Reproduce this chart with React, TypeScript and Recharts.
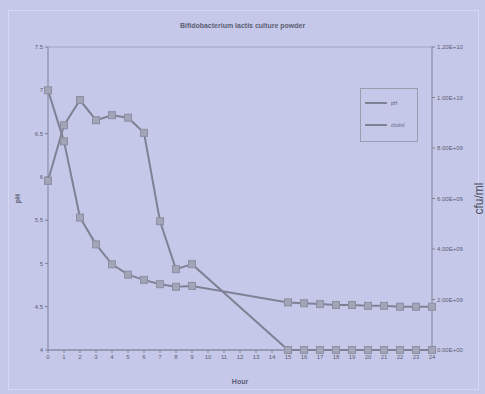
import React from 'react';
import { ComposedChart, Line, XAxis, YAxis, CartesianGrid, Label } from 'recharts';

const hours = [0, 1, 2, 3, 4, 5, 6, 7, 8, 9, 10, 11, 12, 13, 14, 15, 16, 17, 18, 19, 20, 21, 22, 23, 24];
const phValues: (number | null)[] = [7.0, 6.41, 5.53, 5.22, 4.99, 4.87, 4.81, 4.76, 4.73, 4.74, null, null, null, null, null, 4.55, 4.54, 4.53, 4.52, 4.52, 4.51, 4.51, 4.5, 4.5, 4.5];
const cfuValues: (number | null)[] = [6.7e9, 8.9e9, 9.9e9, 9.1e9, 9.3e9, 9.2e9, 8.6e9, 5.1e9, 3.2e9, 3.4e9, null, null, null, null, null, 0, 0, 0, 0, 0, 0, 0, 0, 0, 0];
const phTicks = [4, 4.5, 5, 5.5, 6, 6.5, 7, 7.5];
const cfuTicks = [0, 2e9, 4e9, 6e9, 8e9, 1e10, 1.2e10];

const BG = '#c6c8ea';
const LINE = '#7e8294';
const TXT = '#5c5e72';

const data = hours.map((h, i) => ({ hour: h, pH: phValues[i], cfu: cfuValues[i] }));

const fmtExp = (v: number) => {
  const [m, e] = v.toExponential(2).split('e');
  const n = parseInt(e, 10);
  return `${m}E${n < 0 ? '-' : '+'}${String(Math.abs(n)).padStart(2, '0')}`;
};

const SquareDot = (props: any) => {
  const { cx, cy, value } = props;
  if (cx == null || cy == null || value == null) return null;
  return <rect x={cx - 3.5} y={cy - 3.5} width={7} height={7} fill="#a2a4b8" stroke="#8c8fa2" strokeWidth={1} />;
};

const tick = { fontSize: 6, fill: TXT, fontFamily: 'Liberation Sans, Arial, sans-serif' };

export default function App() {
  return (
    <div style={{ position: 'fixed', left: 0, top: 0, width: 485, height: 394, background: BG, overflow: 'hidden', fontFamily: 'Liberation Sans, Arial, sans-serif' }}>
      <div style={{ position: 'absolute', left: 8, top: 10, right: 6, bottom: 4, border: '1px solid #d6d8f2' }} />
      <div style={{ position: 'absolute', left: 0, width: 485, top: 22, textAlign: 'center', fontSize: 7, fontWeight: 'bold', color: TXT }}>
        Bifidobacterium lactis culture powder
      </div>
      <ComposedChart width={485} height={394} data={data} margin={{ top: 47, right: 8, bottom: 24, left: 10 }}>
        <CartesianGrid vertical={false} stroke="#9fa2c4" strokeWidth={1} />
        <XAxis dataKey="hour" type="number" domain={[0, 24]} ticks={hours} interval={0} tick={tick} tickSize={3} stroke={LINE} height={20}>
          <Label value="Hour" position="insideBottom" offset={-14} style={{ fontSize: 7, fontWeight: 'bold', fill: TXT }} />
        </XAxis>
        <YAxis yAxisId="ph" domain={[4, 7.5]} ticks={phTicks} tick={tick} tickSize={3} stroke={LINE} width={38}>
          <Label value="pH" angle={-90} position="insideLeft" offset={8} style={{ fontSize: 7, fontWeight: 'bold', fill: TXT, textAnchor: 'middle' }} />
        </YAxis>
        <YAxis yAxisId="cfu" orientation="right" domain={[0, 1.2e10]} ticks={cfuTicks} tickFormatter={fmtExp} tick={tick} tickSize={3} stroke={LINE} width={45}>
          <Label value="cfu/ml" angle={-90} position="insideRight" offset={-2} style={{ fontSize: 12, fill: '#4a4c5c', textAnchor: 'middle' }} />
        </YAxis>
        <Line yAxisId="ph" dataKey="pH" stroke={LINE} strokeWidth={2} dot={<SquareDot />} connectNulls isAnimationActive={false} />
        <Line yAxisId="cfu" dataKey="cfu" stroke={LINE} strokeWidth={2} dot={<SquareDot />} connectNulls isAnimationActive={false} />
      </ComposedChart>
      <div style={{ position: 'absolute', left: 360, top: 88, width: 56, height: 52, border: '1px solid #9a9cb0', fontSize: 5, color: TXT }}>
        <div style={{ position: 'absolute', left: 4, top: 11, display: 'flex', alignItems: 'center' }}>
          <span style={{ display: 'inline-block', width: 22, height: 2, background: LINE, marginRight: 4 }} />pH
        </div>
        <div style={{ position: 'absolute', left: 4, top: 33, display: 'flex', alignItems: 'center' }}>
          <span style={{ display: 'inline-block', width: 22, height: 2, background: LINE, marginRight: 4 }} />cfu/ml
        </div>
      </div>
    </div>
  );
}
